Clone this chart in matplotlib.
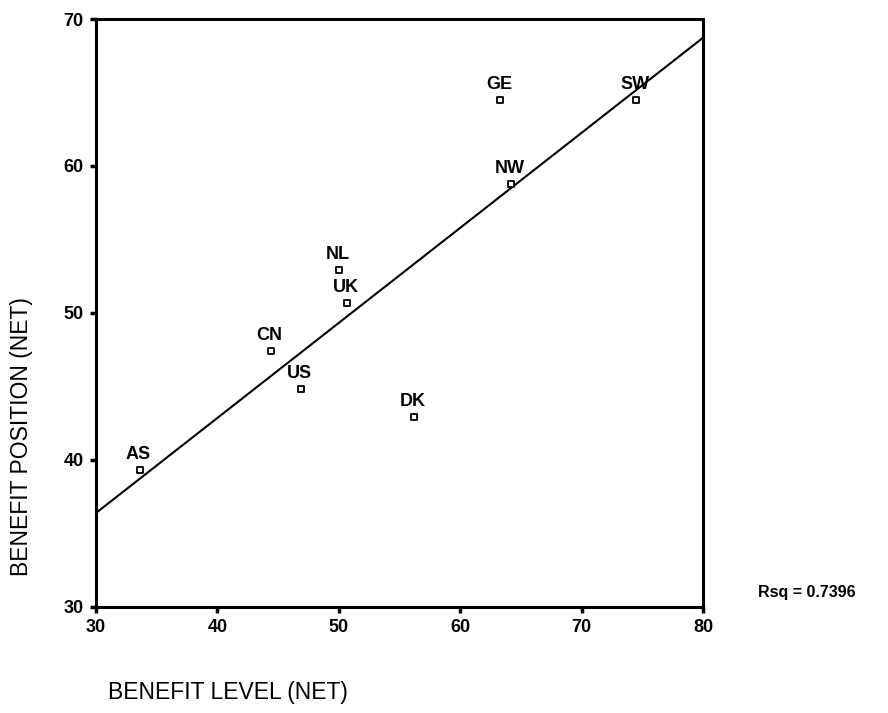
import numpy as np
import matplotlib
matplotlib.use("Agg")
import matplotlib.pyplot as plt

countries = ["AS", "CN", "US", "NL", "UK", "DK", "GE", "NW", "SW"]
benefit_level = [33.6, 44.4, 46.9, 50.0, 50.7, 56.2, 63.3, 64.2, 74.5]
benefit_position = [39.3, 47.4, 44.8, 52.9, 50.7, 42.9, 64.5, 58.8, 64.5]
x_ticks = [30, 40, 50, 60, 70, 80]
y_ticks = [30, 40, 50, 60, 70]

plt.rcParams['font.family'] = ['Liberation Sans', 'DejaVu Sans']

fig = plt.figure(figsize=(8.88, 7.13), dpi=100)
L, R, T, B = 96, 703, 19, 607
ax = fig.add_axes([L/888, 1-B/713, (R-L)/888, (B-T)/713])

x = np.array(benefit_level)
y = np.array(benefit_position)
slope, intercept = np.polyfit(x, y, 1)
xl = np.array([30, 80])
ax.plot(xl, intercept + slope*xl, color='black', lw=1.5)

ax.scatter(x, y, marker='s', s=24, facecolors='white', edgecolors='black', linewidths=1.3, zorder=3)
for c, xi, yi in zip(countries, x, y):
    ax.annotate(c, (xi, yi), xytext=(-1, 5), textcoords='offset points',
                ha='center', va='bottom', fontsize=13, fontweight='bold', zorder=4)

ax.set_xlim(30, 80)
ax.set_ylim(30, 70)
ax.set_xticks(x_ticks)
ax.set_yticks(y_ticks)
ax.tick_params(direction='out', length=4, width=2.5, labelsize=13, pad=5)
for lbl in ax.get_xticklabels() + ax.get_yticklabels():
    lbl.set_fontweight('bold')
for s in ax.spines.values():
    s.set_linewidth(2.2)

fig.text(22/888, 1-437/713, "BENEFIT POSITION (NET)", rotation=90, ha='center', va='center', fontsize=16.5)
fig.text(108/888, 1-693/713, "BENEFIT LEVEL (NET)", ha='left', va='center', fontsize=16.5)
fig.text(758/888, 1-593/713, "Rsq = 0.7396", ha='left', va='center', fontsize=11.5, fontweight='bold')

fig.savefig("out.png", dpi=100)
